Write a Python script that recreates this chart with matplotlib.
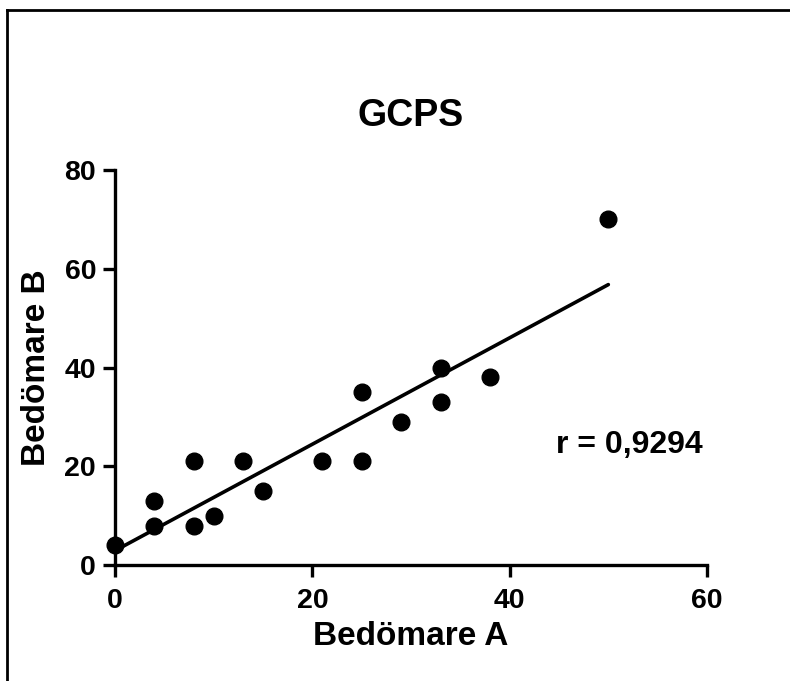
import numpy as np
import matplotlib.pyplot as plt
from matplotlib.lines import Line2D

plt.rcParams['font.family'] = ['Liberation Sans', 'DejaVu Sans']
plt.rcParams['font.weight'] = 'bold'

# data
bedomare_a = [0, 4, 4, 8, 8, 10, 13, 15, 21, 25, 25, 29, 33, 33, 38, 50]
bedomare_b = [4, 13, 8, 21, 8, 10, 21, 15, 21, 35, 21, 29, 40, 33, 38, 70]
x_ticks = [0, 20, 40, 60]
y_ticks = [0, 20, 40, 60, 80]
r_text = "r = 0,9294"

fig = plt.figure(figsize=(7.9, 6.81), dpi=100)
ax = fig.add_axes([115/790, 1-565/681, (707-115)/790, (565-170)/681])

ax.plot(bedomare_a, bedomare_b, 'o', color='black', markersize=12, clip_on=False, zorder=3)

# linear fit over the data range
k, m = np.polyfit(bedomare_a, bedomare_b, 1)
xs = np.array([min(bedomare_a), max(bedomare_a)])
ax.plot(xs, k*xs + m, color='black', lw=2.6, solid_capstyle='round', clip_on=False)

ax.set_xlim(0, 60)
ax.set_ylim(0, 80)
ax.set_xticks(x_ticks)
ax.set_yticks(y_ticks)

for s in ['top', 'right']:
    ax.spines[s].set_visible(False)
for s in ['left', 'bottom']:
    ax.spines[s].set_linewidth(2.4)
ax.tick_params(direction='out', length=8.6, width=2.4, labelsize=20.5, pad=5)
ax.tick_params(axis='x', pad=8)

ax.set_title("GCPS", fontsize=27, fontweight='bold', pad=32)
ax.set_xlabel("Bedömare A", fontsize=24, fontweight='bold', va='center')
ax.set_ylabel("Bedömare B", fontsize=24, fontweight='bold', va='center')
ax.xaxis.set_label_coords(0.5, -0.182)
ax.yaxis.set_label_coords(-0.132, 0.5)

ax.text(44.7, 24.3, r_text, fontsize=23, fontweight='bold', va='center', ha='left')

# frame around the picture (only top and left visible)
fig.add_artist(Line2D([7/790, 1], [1-10/681, 1-10/681], color='black', lw=2))
fig.add_artist(Line2D([7/790, 7/790], [0, 1-10/681], color='black', lw=2))

fig.savefig('out.png', dpi=100)
